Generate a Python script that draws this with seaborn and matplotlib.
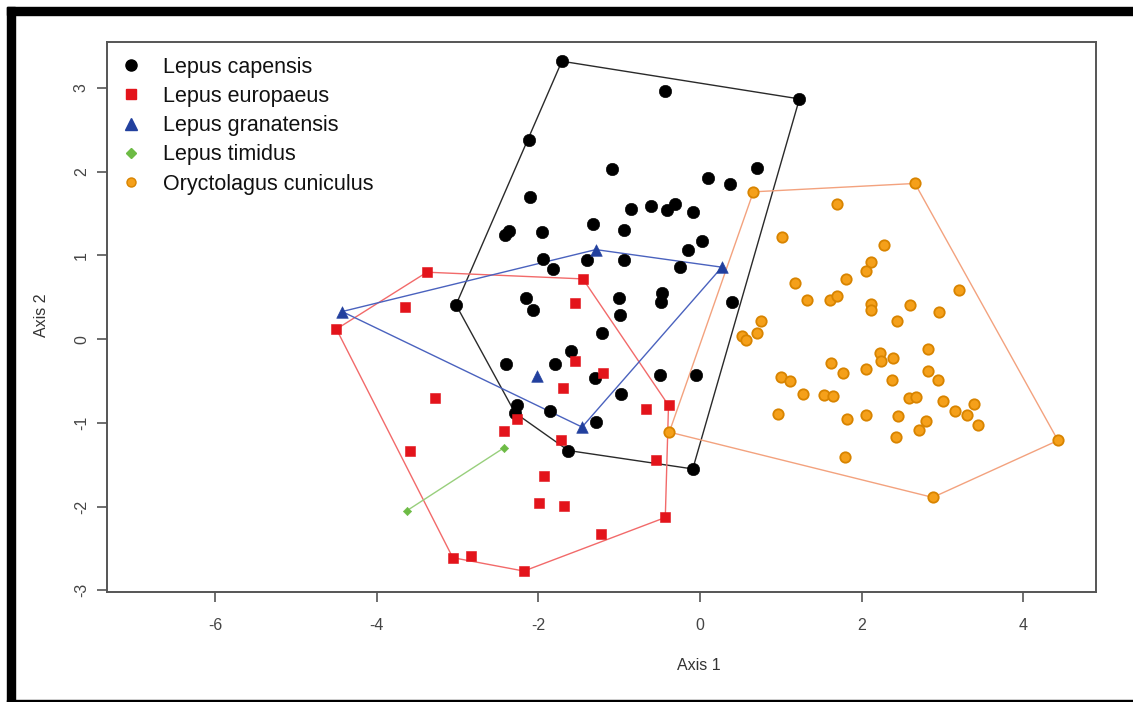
import numpy as np
import pandas as pd
import matplotlib
matplotlib.use("Agg")
import matplotlib.pyplot as plt
from matplotlib.lines import Line2D
from matplotlib.patches import Rectangle
import seaborn as sns

# ---- PCA scores per species (Axis 1, Axis 2) ----
capensis_x = [-1.71, -0.43, 1.23, -2.12, -1.09, 0.71, 0.10, 0.37, -2.10, -0.85,
              -0.61, -0.41, -0.31, -0.09, -2.36, -2.41, -1.95, -1.33, -0.94, 0.02,
              -0.15, -1.94, -1.40, -0.94, -0.25, -1.82, -3.02, -2.16, -2.07, -1.00,
              -0.99, -0.47, -0.48, 0.40, -1.21, -1.60, -1.79, -2.40, -1.30, -0.50,
              -0.05, -0.98, -2.27, -2.29, -1.86, -1.29, -1.63, -0.09]
capensis_y = [3.32, 2.96, 2.87, 2.38, 2.03, 2.05, 1.92, 1.85, 1.70, 1.56,
              1.59, 1.54, 1.62, 1.52, 1.29, 1.25, 1.28, 1.38, 1.31, 1.17,
              1.06, 0.96, 0.95, 0.94, 0.86, 0.84, 0.41, 0.49, 0.35, 0.49,
              0.29, 0.55, 0.45, 0.44, 0.07, -0.14, -0.30, -0.30, -0.46, -0.43,
              -0.43, -0.66, -0.79, -0.88, -0.86, -0.99, -1.33, -1.55]

europaeus_x = [-3.38, -1.45, -3.65, -1.55, -4.50, -1.55, -1.20, -1.70, -3.28, -0.67,
               -0.39, -2.27, -2.42, -1.72, -3.59, -0.54, -1.93, -1.99, -1.68, -0.43,
               -1.22, -3.06, -2.84, -2.18]
europaeus_y = [0.80, 0.72, 0.39, 0.43, 0.12, -0.26, -0.41, -0.58, -0.70, -0.84,
               -0.79, -0.95, -1.10, -1.21, -1.33, -1.44, -1.64, -1.96, -1.99, -2.13,
               -2.33, -2.61, -2.59, -2.77]

granatensis_x = [-4.43, -1.29, 0.27, -2.02, -1.46]
granatensis_y = [0.33, 1.07, 0.86, -0.44, -1.05]

timidus_x = [-2.43, -3.63]
timidus_y = [-1.30, -2.05]

cuniculus_x = [0.66, 2.66, 1.70, 1.01, 2.28, 2.12, 2.06, 1.81, 1.18, 3.21,
               1.33, 1.61, 1.70, 2.12, 2.12, 2.60, 2.96, 2.44, 0.76, 0.71,
               0.52, 0.57, 2.82, 2.23, 2.24, 2.39, 1.62, 1.77, 2.05, 2.82,
               2.94, 2.38, 1.00, 1.11, 1.28, 1.53, 1.65, 2.59, 2.67, 3.01,
               3.39, 3.16, 3.30, 3.44, 0.97, 2.06, 1.82, 2.45, 2.80, 2.71,
               2.43, 1.79, 4.43, 2.88, -0.38]
cuniculus_y = [1.76, 1.86, 1.61, 1.22, 1.13, 0.92, 0.82, 0.72, 0.67, 0.59,
               0.47, 0.47, 0.51, 0.42, 0.35, 0.41, 0.33, 0.22, 0.22, 0.07,
               0.04, -0.01, -0.12, -0.16, -0.26, -0.22, -0.29, -0.40, -0.36, -0.38,
               -0.49, -0.49, -0.45, -0.50, -0.66, -0.67, -0.68, -0.70, -0.69, -0.74,
               -0.77, -0.86, -0.90, -1.02, -0.89, -0.90, -0.95, -0.92, -0.98, -1.08,
               -1.17, -1.41, -1.21, -1.89, -1.11]

species = ["Lepus capensis", "Lepus europaeus", "Lepus granatensis",
           "Lepus timidus", "Oryctolagus cuniculus"]
xs = [capensis_x, europaeus_x, granatensis_x, timidus_x, cuniculus_x]
ys = [capensis_y, europaeus_y, granatensis_y, timidus_y, cuniculus_y]

x_ticks = [-6, -4, -2, 0, 2, 4]
y_ticks = [-3, -2, -1, 0, 1, 2, 3]

df = pd.concat([pd.DataFrame({"Axis 1": x, "Axis 2": y, "species": s})
                for s, x, y in zip(species, xs, ys)], ignore_index=True)

# ---- appearance of each group ----
fill = {"Lepus capensis": "#000000", "Lepus europaeus": "#E3141B",
        "Lepus granatensis": "#22409E", "Lepus timidus": "#6DBB45",
        "Oryctolagus cuniculus": "#F5A01A"}
edge = {"Lepus capensis": "#000000", "Lepus europaeus": "#E3141B",
        "Lepus granatensis": "#22409E", "Lepus timidus": "#6DBB45",
        "Oryctolagus cuniculus": "#D88400"}
hull_col = {"Lepus capensis": "#2a2a2a", "Lepus europaeus": "#F26A6A",
            "Lepus granatensis": "#4A62BE", "Lepus timidus": "#98CF7C",
            "Oryctolagus cuniculus": "#F3A27E"}
marker = {"Lepus capensis": "o", "Lepus europaeus": "s", "Lepus granatensis": "^",
          "Lepus timidus": "D", "Oryctolagus cuniculus": "o"}
size = {"Lepus capensis": 80, "Lepus europaeus": 62, "Lepus granatensis": 70,
        "Lepus timidus": 18, "Oryctolagus cuniculus": 56}


def convex_hull(points):
    pts = sorted(set(points))
    if len(pts) <= 2:
        return pts

    def cross(o, a, b):
        return (a[0] - o[0]) * (b[1] - o[1]) - (a[1] - o[1]) * (b[0] - o[0])

    lower, upper = [], []
    for p in pts:
        while len(lower) >= 2 and cross(lower[-2], lower[-1], p) <= 0:
            lower.pop()
        lower.append(p)
    for p in reversed(pts):
        while len(upper) >= 2 and cross(upper[-2], upper[-1], p) <= 0:
            upper.pop()
        upper.append(p)
    return lower[:-1] + upper[:-1]


sns.set_theme(style="white")
plt.rcParams["font.family"] = ["Liberation Sans", "DejaVu Sans"]

fig = plt.figure(figsize=(11.33, 7.02), dpi=100)
ax = fig.add_axes([0.0944, 0.1567, 0.9729 - 0.0944 - 0.0056, 0.9402 - 0.1567])

# hull outlines
for sp, x, y in zip(species, xs, ys):
    hull = convex_hull(list(zip(x, y)))
    if len(hull) > 2:
        hull = hull + [hull[0]]
    hx, hy = zip(*hull)
    ax.plot(hx, hy, color=hull_col[sp], lw=1.0, zorder=2)

# points
for sp in species:
    sub = df[df["species"] == sp]
    sns.scatterplot(data=sub, x="Axis 1", y="Axis 2", ax=ax, marker=marker[sp],
                    s=size[sp], color=fill[sp], edgecolor=edge[sp],
                    linewidth=1.3 if sp == "Oryctolagus cuniculus" else 0.4,
                    legend=False, zorder=3)

ax.set_xlim(-7.34, 4.90)
ax.set_ylim(-3.02, 3.55)
ax.set_xticks(x_ticks)
ax.set_yticks(y_ticks)
ax.set_xticklabels([str(t) for t in x_ticks])
ax.set_yticklabels([str(t) for t in y_ticks], rotation=90, va="center")

for s in ax.spines.values():
    s.set_visible(True)
    s.set_color("#555555")
    s.set_linewidth(1.4)
ax.tick_params(axis="x", pad=12)
ax.tick_params(axis="y", pad=6)
ax.tick_params(axis="both", which="major", direction="out", length=7, width=1.2,
               color="#555555", labelcolor="#444444", labelsize=11.5,
               bottom=True, left=True, top=False, right=False)

ax.set_xlabel("Axis 1", fontsize=11.5, color="#333333")
ax.set_ylabel("Axis 2", fontsize=11.5, color="#333333")
ax.xaxis.set_label_coords(0.598, -0.12)
ax.yaxis.set_label_coords(-0.0586, 0.504)

# legend
handles = [
    Line2D([], [], ls="none", marker="o", ms=8.0, color=fill[species[0]]),
    Line2D([], [], ls="none", marker="s", ms=7.0, color=fill[species[1]]),
    Line2D([], [], ls="none", marker="^", ms=8.0, color=fill[species[2]]),
    Line2D([], [], ls="none", marker="D", ms=5.0, color=fill[species[3]]),
    Line2D([], [], ls="none", marker="o", ms=6.5, markerfacecolor=fill[species[4]],
           markeredgecolor=edge[species[4]], markeredgewidth=1.0),
]
ax.legend(handles, species, loc="upper left", bbox_to_anchor=(0.013, 0.973),
          frameon=False, fontsize=15.5, handlelength=1.0, handletextpad=1.0,
          labelspacing=0.38, borderaxespad=0, borderpad=0, labelcolor="#111111")

# page frame
fig.patches.append(Rectangle((7 / 1133, 1 - 15 / 702), 1 - 7 / 1133, 8 / 702,
                             transform=fig.transFigure, color="black", zorder=10))
fig.patches.append(Rectangle((7 / 1133, 0.0), 8 / 1133, 1 - 7 / 702,
                             transform=fig.transFigure, color="black", zorder=10))
fig.patches.append(Rectangle((7 / 1133, 0.0), 1 - 7 / 1133, 2.5 / 702,
                             transform=fig.transFigure, color="black", zorder=10))

fig.savefig("out.png", dpi=100)
